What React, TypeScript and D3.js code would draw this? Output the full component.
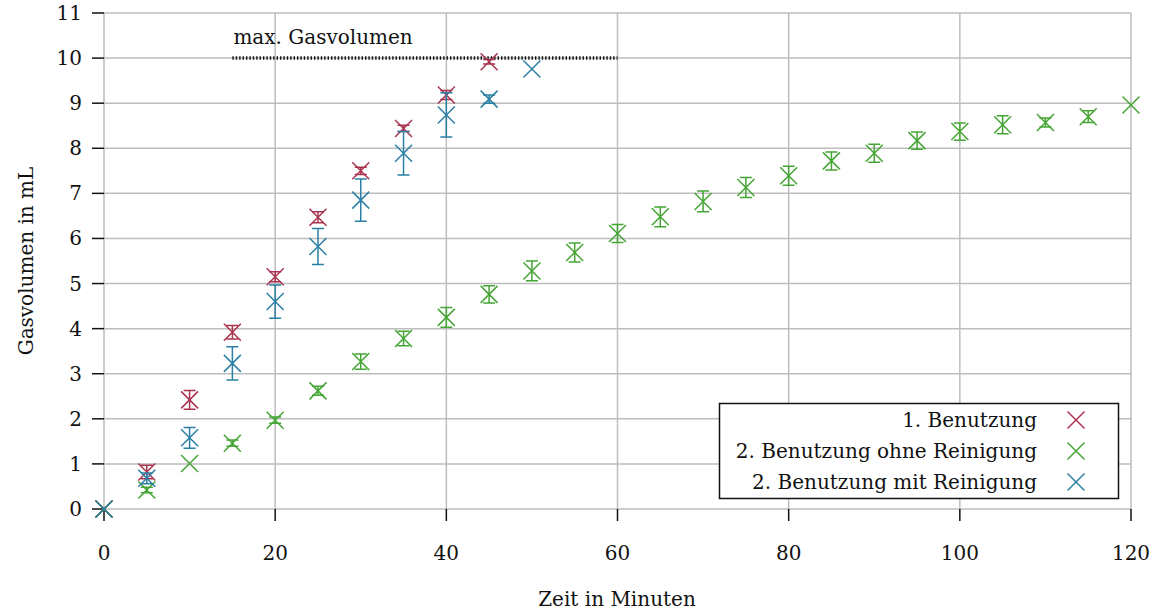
import React from "react";
import * as d3 from "d3";

const seriesNames = ["1. Benutzung", "2. Benutzung ohne Reinigung", "2. Benutzung mit Reinigung"];
const seriesColors = ["#a93450", "#45a534", "#2b7fa3"];

const timesRed = [0, 5, 10, 15, 20, 25, 30, 35, 40, 45];
const valuesRed = [0, 0.82, 2.42, 3.92, 5.15, 6.47, 7.5, 8.44, 9.18, 9.92];
const errRed = [0, 0.15, 0.21, 0.15, 0.11, 0.12, 0.08, 0.07, 0.1, 0.05];

const timesGreen = [0, 5, 10, 15, 20, 25, 30, 35, 40, 45, 50, 55, 60, 65, 70, 75, 80, 85, 90, 95, 100, 105, 110, 115, 120];
const valuesGreen = [0, 0.42, 1.01, 1.46, 1.97, 2.62, 3.27, 3.78, 4.25, 4.76, 5.28, 5.69, 6.11, 6.48, 6.82, 7.13, 7.39, 7.72, 7.89, 8.17, 8.37, 8.52, 8.57, 8.7, 8.96];
const errGreen = [0, 0.06, 0, 0.07, 0.07, 0.1, 0.17, 0.16, 0.22, 0.19, 0.22, 0.21, 0.2, 0.22, 0.23, 0.22, 0.21, 0.2, 0.2, 0.19, 0.19, 0.2, 0.1, 0.13, 0];

const timesBlue = [0, 5, 10, 15, 20, 25, 30, 35, 40, 45, 50];
const valuesBlue = [0, 0.68, 1.58, 3.23, 4.6, 5.82, 6.85, 7.89, 8.74, 9.09, 9.76];
const errBlue = [0, 0.12, 0.23, 0.37, 0.37, 0.4, 0.47, 0.48, 0.49, 0.09, 0];

const xTicks = [0, 20, 40, 60, 80, 100, 120];
const yTicks = [0, 1, 2, 3, 4, 5, 6, 7, 8, 9, 10, 11];

const maxVolume = 10;
const maxLineFrom = 15;
const maxLineTo = 60;
const maxLabel = "max. Gasvolumen";

const xTitle = "Zeit in Minuten";
const yTitle = "Gasvolumen in mL";

const FONT = "'DejaVu Serif', 'Liberation Serif', serif";
const FS = 20;

export default function App() {
  const W = 1162, H = 611;
  const x = d3.scaleLinear().domain([0, 120]).range([104, 1131]);
  const y = d3.scaleLinear().domain([0, 11]).range([509, 13]);

  const series = [
    { t: timesRed, v: valuesRed, e: errRed },
    { t: timesGreen, v: valuesGreen, e: errGreen },
    { t: timesBlue, v: valuesBlue, e: errBlue },
  ];

  const ms = 8.5; // marker half size
  const cap = 6;
  const cross = (cx: number, cy: number, color: string, key: string) => (
    <path
      key={key}
      d={`M${cx - ms},${cy - ms}L${cx + ms},${cy + ms}M${cx - ms},${cy + ms}L${cx + ms},${cy - ms}`}
      stroke={color}
      strokeWidth={1.5}
      fill="none"
    />
  );

  const gridColor = "#bdbdbd";

  return (
    <svg width={W} height={H} style={{ position: "absolute", left: 0, top: 0, background: "#fff" }}>
      {/* grid */}
      {yTicks.map((t) => (
        <line key={"gy" + t} x1={x(0)} x2={x(120)} y1={y(t)} y2={y(t)} stroke={gridColor} strokeWidth={1.5} />
      ))}
      {xTicks.map((t) => (
        <line key={"gx" + t} x1={x(t)} x2={x(t)} y1={y(0)} y2={y(11)} stroke={gridColor} strokeWidth={1.5} />
      ))}
      {/* ticks */}
      {yTicks.map((t) => (
        <line key={"ty" + t} x1={x(0) - 12} x2={x(0)} y1={y(t)} y2={y(t)} stroke="#111" strokeWidth={1.5} />
      ))}
      {xTicks.map((t) => (
        <line key={"tx" + t} x1={x(t)} x2={x(t)} y1={y(0)} y2={y(0) + 12} stroke="#111" strokeWidth={1.5} />
      ))}
      {/* tick labels */}
      {yTicks.map((t) => (
        <text key={"ly" + t} x={82} y={y(t)} dy="0.35em" textAnchor="end" fontFamily={FONT} fontSize={FS} fill="#111">
          {t}
        </text>
      ))}
      {xTicks.map((t) => (
        <text key={"lx" + t} x={x(t)} y={560} textAnchor="middle" fontFamily={FONT} fontSize={FS} fill="#111">
          {t}
        </text>
      ))}
      {/* axis titles */}
      <text x={617} y={606} textAnchor="middle" fontFamily={FONT} fontSize={FS} fill="#111">
        {xTitle}
      </text>
      <text
        transform={`translate(33,${(y(0) + y(11)) / 2}) rotate(-90)`}
        textAnchor="middle"
        fontFamily={FONT}
        fontSize={FS}
        fill="#111"
      >
        {yTitle}
      </text>
      {/* max line */}
      <line
        x1={x(maxLineFrom)}
        x2={x(maxLineTo)}
        y1={y(maxVolume)}
        y2={y(maxVolume)}
        stroke="#111"
        strokeWidth={3.5}
        strokeDasharray="1.4 2"
      />
      <text x={x(maxLineFrom) + 1} y={44} fontFamily={FONT} fontSize={FS} fill="#111">
        {maxLabel}
      </text>
      {/* series */}
      {series.map((s, si) => (
        <g key={"s" + si}>
          {s.t.map((t, i) => {
            const cx = x(t);
            const cy = y(s.v[i]);
            const e = s.e[i];
            const color = seriesColors[si];
            const parts = [];
            if (e > 0) {
              const y1 = y(s.v[i] + e);
              const y2 = y(s.v[i] - e);
              parts.push(
                <path
                  key={"e" + i}
                  d={`M${cx},${y1}L${cx},${y2}M${cx - cap},${y1}L${cx + cap},${y1}M${cx - cap},${y2}L${cx + cap},${y2}`}
                  stroke={color}
                  strokeWidth={1.5}
                  fill="none"
                />
              );
            }
            parts.push(cross(cx, cy, color, "m" + i));
            return <g key={"p" + i}>{parts}</g>;
          })}
        </g>
      ))}
      {/* legend */}
      <rect x={719.5} y={403.5} width={399} height={95} fill="#fff" stroke="#111" strokeWidth={1.5} />
      {seriesNames.map((n, i) => {
        const ly = 420 + i * 31;
        return (
          <g key={"lg" + i}>
            <text x={1037} y={ly} dy="0.35em" textAnchor="end" fontFamily={FONT} fontSize={FS} fill="#111">
              {n}
            </text>
            {cross(1076, ly, seriesColors[i], "lm" + i)}
          </g>
        );
      })}
    </svg>
  );
}
